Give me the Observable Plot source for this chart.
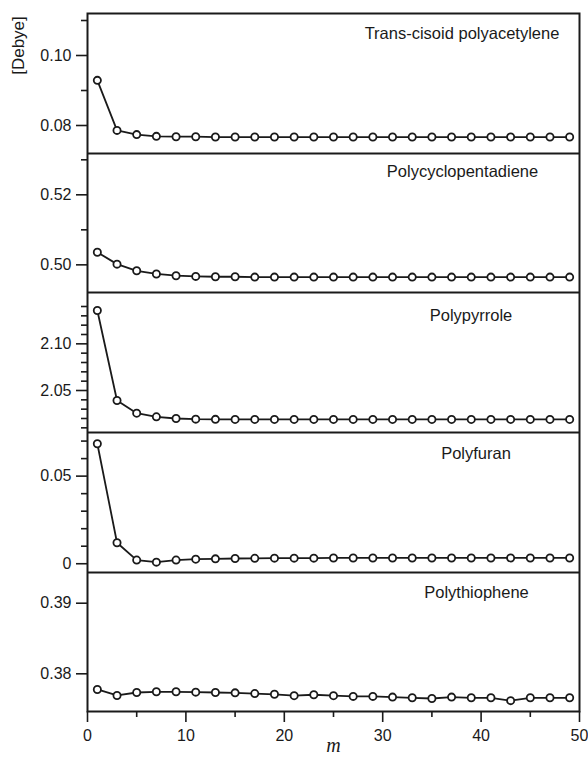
<!DOCTYPE html>
<html>
<head>
<meta charset="utf-8">
<script src="https://cdn.jsdelivr.net/npm/d3@7"></script>
<script src="https://cdn.jsdelivr.net/npm/@observablehq/plot@0.6"></script>
<style>
  html, body { margin: 0; padding: 0; background: white; }
  #chart svg { display: block; }
</style>
</head>
<body>
<div id="chart"></div>
<script>
// ---- data ----
const mValues = [1,3,5,7,9,11,13,15,17,19,21,23,25,27,29,31,33,35,37,39,41,43,45,47,49];
const panelNames = ["Trans-cisoid polyacetylene", "Polycyclopentadiene", "Polypyrrole", "Polyfuran", "Polythiophene"];
const polyacetylene = [0.0929,0.0786,0.0774,0.0769,0.0768,0.0768,0.0767,0.0767,0.0767,0.0767,0.0767,0.0767,0.0767,0.0767,0.0767,0.0767,0.0767,0.0767,0.0767,0.0767,0.0767,0.0767,0.0767,0.0767,0.0767];
const polycyclopentadiene = [0.5036,0.5002,0.4983,0.4974,0.4969,0.4967,0.4966,0.4966,0.4965,0.4965,0.4965,0.4965,0.4965,0.4965,0.4965,0.4965,0.4965,0.4965,0.4965,0.4965,0.4965,0.4965,0.4965,0.4965,0.4965];
const polypyrrole = [2.1357,2.0393,2.0257,2.0218,2.0200,2.0193,2.0191,2.0190,2.0190,2.0190,2.0190,2.0190,2.0190,2.0190,2.0190,2.0190,2.0190,2.0190,2.0190,2.0190,2.0190,2.0190,2.0190,2.0190,2.0190];
const polyfuran = [0.0685,0.0120,0.0021,0.0009,0.0021,0.0026,0.0028,0.0030,0.0031,0.0032,0.0032,0.0032,0.0033,0.0033,0.0033,0.0033,0.0033,0.0033,0.0033,0.0033,0.0033,0.0033,0.0033,0.0033,0.0033];
const polythiophene = [0.37778,0.37693,0.37735,0.37745,0.37745,0.37740,0.37735,0.37730,0.37720,0.37710,0.37690,0.37703,0.37690,0.37680,0.37680,0.37670,0.37660,0.37650,0.37670,0.37660,0.37660,0.37620,0.37660,0.37660,0.37660];
const seriesValues = [polyacetylene, polycyclopentadiene, polypyrrole, polyfuran, polythiophene];
const majorTicks = [[0.08,0.10],[0.50,0.52],[2.05,2.10],[0,0.05],[0.38,0.39]];
const minorTicks = [[0.09,0.11],[0.51,0.53],[2.01,2.02,2.03,2.04,2.06,2.07,2.08,2.09,2.11,2.12,2.13,2.14],[0.01,0.02,0.03,0.04,0.06,0.07],[]];
const xMajorTicks = [0,10,20,30,40,50];
const xMinorTicks = [5,15,25,35,45];
const yLabel = "[Debye]";
const xLabel = "m";

// ---- layout (scales / styling) ----
const domains = [[0.072,0.112],[0.4921,0.5318],[2.005,2.155],[-0.005,0.0749],[0.37466,0.39435]];
const heights = [153,139,140,140,186];
const marginsTop = [13,0,0,0,0];
const marginsBottom = [0,0,0,0,47];
const labelDx = [-117.5,-117,-108.5,-103.5,-103];
const labelDy = [20,18,23,21,20];

const fmt = d => d === 0 ? "0" : d3.format(".2f")(d);
const ink = "#1a1a1a";
const root = document.getElementById("chart");

seriesValues.forEach((vals, i) => {
  const data = mValues.map((m, j) => ({m, v: vals[j]}));
  const last = i === seriesValues.length - 1;
  const marks = [
    Plot.frame({stroke: ink, strokeWidth: 2}),
    Plot.axisY(minorTicks[i], {tickSize: 6, tickFormat: () => "", label: null, stroke: ink, strokeWidth: 1.6}),
    Plot.axisY(majorTicks[i], {tickSize: 11, tickPadding: 5, tickFormat: fmt, label: null, stroke: ink, strokeWidth: 1.6, fill: ink}),
    Plot.line(data, {x: "m", y: "v", stroke: ink, strokeWidth: 1.8}),
    Plot.dot(data, {x: "m", y: "v", r: 3.6, fill: "white", stroke: ink, strokeWidth: 1.8}),
    Plot.text([panelNames[i]], {frameAnchor: "top-right", dx: labelDx[i], dy: labelDy[i], textAnchor: "middle", lineAnchor: "middle", fontSize: 16.5, fill: ink})
  ];
  if (i === 0) {
    marks.push(Plot.text([yLabel], {frameAnchor: "top-left", dx: -69, dy: 32, rotate: -90, textAnchor: "middle", lineAnchor: "middle", fontSize: 17, fill: ink}));
  }
  if (last) {
    marks.push(
      Plot.axisX(xMajorTicks, {tickSize: 11, tickPadding: 7, label: null, stroke: ink, strokeWidth: 1.6, fill: ink}),
      Plot.axisX(xMinorTicks, {tickSize: 6, tickFormat: () => "", label: null, stroke: ink, strokeWidth: 1.6}),
      Plot.text([xLabel], {frameAnchor: "bottom", dy: 34, textAnchor: "middle", lineAnchor: "middle", fontSize: 20, fontStyle: "italic", fontFamily: "'Liberation Serif', 'DejaVu Serif', serif", fill: ink})
    );
  }
  const chart = Plot.plot({
    width: 588,
    height: heights[i],
    marginLeft: 87,
    marginRight: 9,
    marginTop: marginsTop[i],
    marginBottom: marginsBottom[i],
    style: {fontFamily: "'Liberation Sans', Arial, sans-serif", fontSize: "16px", color: ink, background: "white"},
    x: last ? {domain: [0, 50]} : {domain: [0, 50], axis: null},
    y: {domain: domains[i]},
    marks
  });
  root.appendChild(chart);
});
</script>
</body>
</html>
